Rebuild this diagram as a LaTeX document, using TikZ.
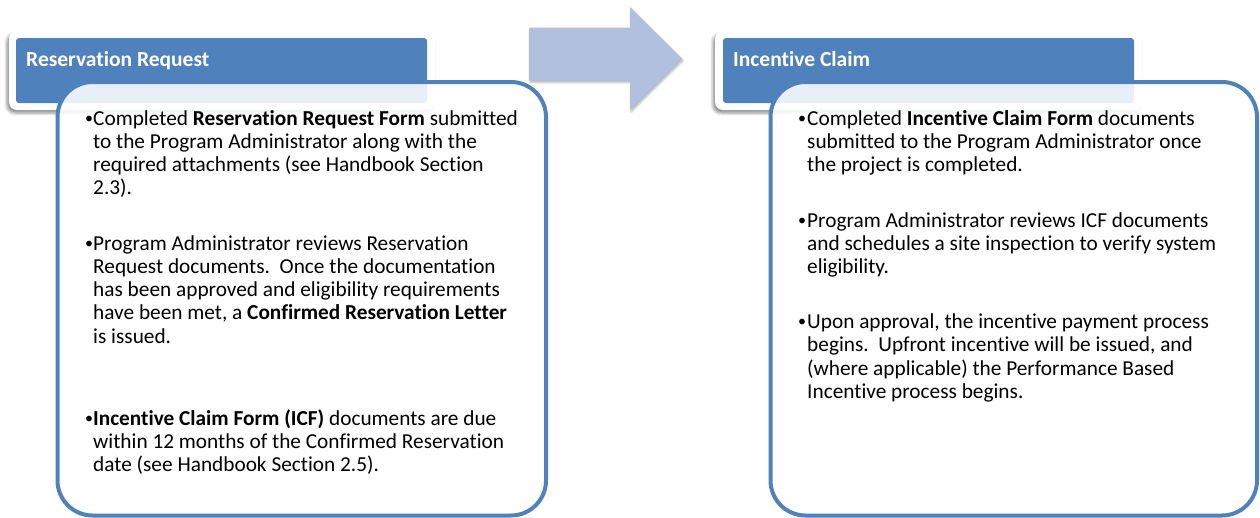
\documentclass[tikz,border=0pt]{standalone}
\usepackage{fontspec}
\setmainfont{Carlito}[Ligatures={NoCommon}]
\usetikzlibrary{shadows.blur}
\definecolor{hblue}{HTML}{4F81BD}
\definecolor{arrowblue}{HTML}{B0C0DE}
\tikzset{
  hdrframe/.style={draw=none, fill=white, rounded corners=8pt, inner sep=0pt,
    blur shadow={shadow xshift=-2pt, shadow yshift=-3pt, shadow blur radius=3pt, shadow opacity=45}},
  hdrblue/.style={fill=hblue, rounded corners=3pt, inner sep=0pt},
  hdrtext/.style={anchor=base west, inner sep=0pt, text=white, font=\fontsize{21.5}{25}\selectfont\bfseries},
  stagebox/.style={draw=hblue, line width=4pt, fill=white, fill opacity=0.88, rounded corners=35pt, inner sep=0pt},
  bullettext/.style={anchor=base west, inner sep=0pt, text=black, font=\fontsize{21.3}{23.3}\selectfont},
  bulletdot/.style={anchor=base west, inner sep=0pt, text=black, font=\fontsize{16}{18}\selectfont},
  stagearrow/.style={fill=arrowblue, blur shadow={shadow xshift=1pt, shadow yshift=-2pt, shadow blur radius=2pt, shadow opacity=30}}
}
\newcommand\tline[1]{\hbox{#1}}
\newcommand\bdot{\raisebox{1.6pt}{•}}
\begin{document}
\begin{tikzpicture}[x=1pt,y=-1pt]
\useasboundingbox (0,0) rectangle (1260,517);
% header tabs
\node[hdrframe, minimum width=426pt, minimum height=79pt] (hdrLframe) at (222,70.5) {};
\node[hdrblue, minimum width=411pt, minimum height=65pt] (hdrL) at (221.5,70.5) {};
\node[hdrtext] (hdrLtext) at (26,66) {Reservation Request};
\node[hdrframe, minimum width=427pt, minimum height=79pt] (hdrRframe) at (928.5,70.5) {};
\node[hdrblue, minimum width=411pt, minimum height=65pt] (hdrR) at (928.5,70.5) {};
\node[hdrtext] (hdrRtext) at (733,66) {Incentive Claim};
% stage boxes
\node[stagebox, minimum width=488.5pt, minimum height=433.5pt] (boxL) at (301.75,298.75) {};
\node[stagebox, minimum width=486.5pt, minimum height=433.5pt] (boxR) at (1013.75,298.75) {};
% arrow
\path[stagearrow] (529,27.5) -- (630,27.5) -- (630,7) -- (682,58.5) -- (630,110) -- (630,80.5) -- (529,80.5) -- cycle;
% left bullets
\node[bulletdot] (bL1) at (85,125) {\bdot};
\node[bullettext] (tL1) at (93,125) {\vtop{%
  \tline{Completed \textbf{Reservation Request Form} submitted}
  \tline{to the Program Administrator along with the}
  \tline{required attachments (see Handbook Section}
  \tline{2.3).}}};
\node[bulletdot] (bL2) at (85,250) {\bdot};
\node[bullettext] (tL2) at (93,250) {\vtop{%
  \tline{Program Administrator reviews Reservation}
  \tline{Request documents.\ \ Once the documentation}
  \tline{has been approved and eligibility requirements}
  \tline{have been met, a \textbf{Confirmed Reservation Letter}}
  \tline{is issued.}}};
\node[bulletdot] (bL3) at (85,425) {\bdot};
\node[bullettext] (tL3) at (93,425) {\vtop{%
  \tline{\textbf{Incentive Claim Form (ICF)} documents are due}
  \tline{within 12 months of the Confirmed Reservation}
  \tline{date (see Handbook Section 2.5).}}};
% right bullets
\node[bulletdot] (bR1) at (798,125) {\bdot};
\node[bullettext] (tR1) at (807,125) {\vtop{%
  \tline{Completed \textbf{Incentive Claim Form} documents}
  \tline{submitted to the Program Administrator once}
  \tline{the project is completed.}}};
\node[bulletdot] (bR2) at (798,227) {\bdot};
\node[bullettext] (tR2) at (807,227) {\vtop{%
  \tline{Program Administrator reviews ICF documents}
  \tline{and schedules a site inspection to verify system}
  \tline{eligibility.}}};
\node[bulletdot] (bR3) at (798,328.5) {\bdot};
\node[bullettext] (tR3) at (807,328.5) {\vtop{%
  \tline{Upon approval, the incentive payment process}
  \tline{begins.\ \ Upfront incentive will be issued, and}
  \tline{(where applicable) the Performance Based}
  \tline{Incentive process begins.}}};
\end{tikzpicture}
\end{document}
